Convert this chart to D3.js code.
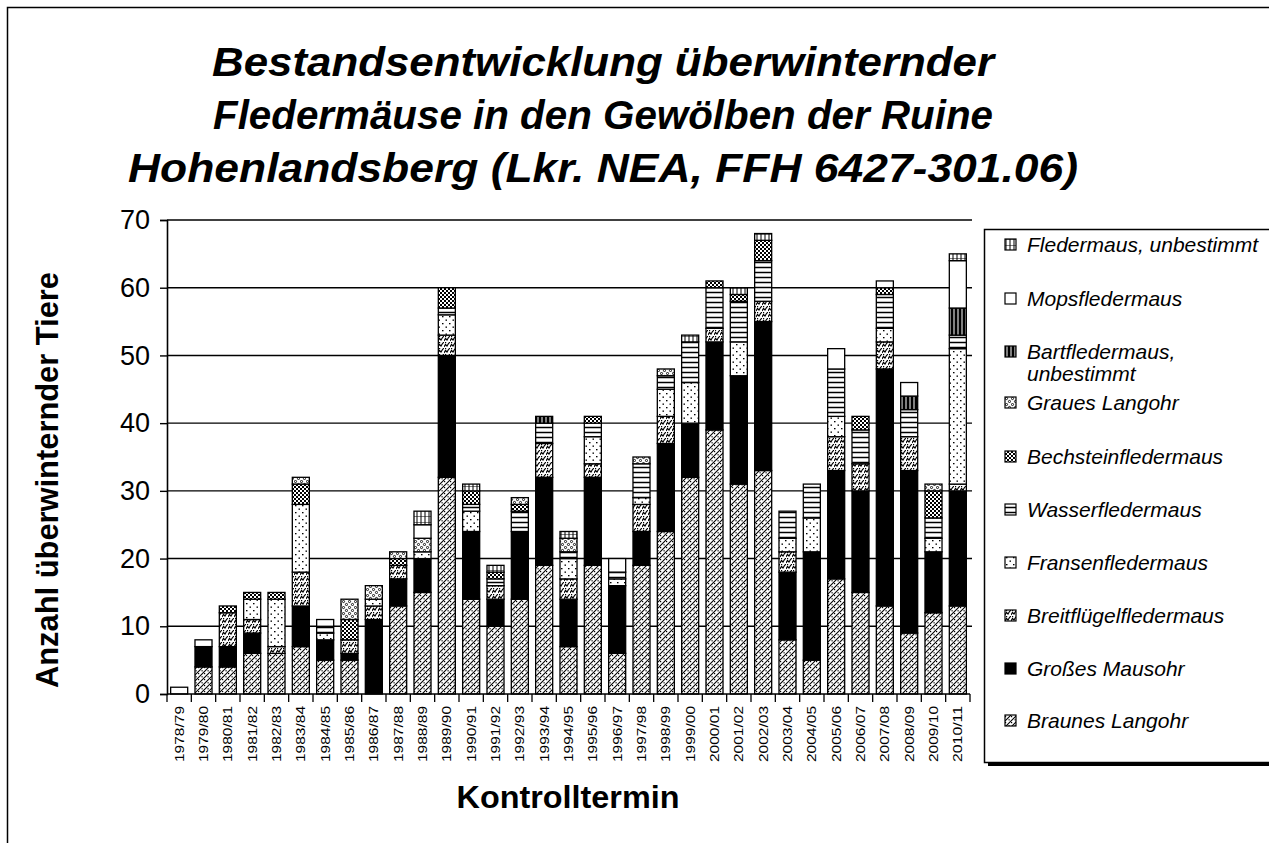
<!DOCTYPE html>
<html>
<head>
<meta charset="utf-8">
<script src="https://cdn.jsdelivr.net/npm/d3@7"></script>
<style>
    body { margin: 0; background: #fff; }
    text { font-family: "Liberation Sans", Arial, sans-serif; fill: #000; }
</style>
</head>
<body>
<div id="chart"></div>
<script>
"use strict";

// Kontrolltermine (x axis)
let seasons = ["1978/79", "1979/80", "1980/81", "1981/82", "1982/83", "1983/84", "1984/85", "1985/86",
    "1986/87", "1987/88", "1988/89", "1989/90", "1990/91", "1991/92", "1992/93", "1993/94", "1994/95",
    "1995/96", "1996/97", "1997/98", "1998/99", "1999/00", "2000/01", "2001/02", "2002/03", "2003/04",
    "2004/05", "2005/06", "2006/07", "2007/08", "2008/09", "2009/10", "2010/11"];

// counts per species, stacked bottom -> top
let braunesLangohr = [0, 4, 4, 6, 6, 7, 5, 5, 0, 13, 15, 32, 14, 10, 14, 19, 7, 19, 6, 19, 24, 32, 39, 31, 33, 8, 5, 17, 15, 13, 9, 12, 13];
let grossesMausohr = [0, 3, 3, 3, 0, 6, 3, 1, 11, 4, 5, 18, 10, 4, 10, 13, 7, 13, 10, 5, 13, 8, 13, 16, 22, 10, 16, 16, 15, 35, 24, 9, 17];
let breitfluegel = [0, 0, 5, 2, 1, 5, 0, 2, 2, 2, 0, 3, 0, 2, 0, 5, 3, 2, 0, 4, 4, 0, 2, 0, 3, 3, 0, 5, 4, 4, 5, 0, 1];
let fransen = [0, 0, 0, 3, 7, 10, 1, 0, 1, 0, 1, 3, 3, 0, 0, 0, 3, 4, 1, 1, 4, 6, 0, 5, 0, 2, 5, 3, 0, 2, 0, 2, 20];
let wasser = [0, 0, 0, 0, 0, 0, 1, 0, 0, 0, 0, 1, 1, 1, 3, 3, 1, 2, 1, 5, 2, 6, 6, 6, 6, 4, 5, 7, 5, 5, 4, 3, 2];
let bechstein = [0, 0, 1, 1, 1, 3, 0, 3, 0, 1, 0, 3, 2, 1, 1, 0, 0, 1, 0, 0, 0, 0, 1, 1, 3, 0, 0, 0, 2, 1, 0, 4, 0];
let grauesLangohr = [0, 0, 0, 0, 0, 1, 0, 3, 2, 1, 2, 0, 0, 0, 1, 0, 2, 0, 0, 1, 1, 0, 0, 0, 0, 0, 0, 0, 0, 0, 0, 1, 0];
let bart = [0, 0, 0, 0, 0, 0, 0, 0, 0, 0, 0, 0, 0, 0, 0, 1, 0, 0, 0, 0, 0, 0, 0, 0, 0, 0, 0, 0, 0, 0, 2, 0, 4];
let mops = [1, 1, 0, 0, 0, 0, 1, 0, 0, 0, 2, 0, 0, 0, 0, 0, 0, 0, 2, 0, 0, 0, 0, 0, 0, 0, 0, 3, 0, 1, 2, 0, 7];
let unbestimmt = [0, 0, 0, 0, 0, 0, 0, 0, 0, 0, 2, 0, 1, 1, 0, 0, 1, 0, 0, 0, 0, 1, 0, 1, 1, 0, 0, 0, 0, 0, 0, 0, 1];

let yTicks = [0, 10, 20, 30, 40, 50, 60, 70];

let series = [
    { key: "braunes", name: "Braunes Langohr", values: braunesLangohr },
    { key: "mausohr", name: "Großes Mausohr", values: grossesMausohr },
    { key: "breit", name: "Breitflügelfledermaus", values: breitfluegel },
    { key: "fransen", name: "Fransenfledermaus", values: fransen },
    { key: "wasser", name: "Wasserfledermaus", values: wasser },
    { key: "bech", name: "Bechsteinfledermaus", values: bechstein },
    { key: "graues", name: "Graues Langohr", values: grauesLangohr },
    { key: "bart", name: "Bartfledermaus, unbestimmt", values: bart },
    { key: "mops", name: "Mopsfledermaus", values: mops },
    { key: "unbest", name: "Fledermaus, unbestimmt", values: unbestimmt }
];

let rows = seasons.map(function (s, i) {
    let r = { season: s };
    for (let sr of series) r[sr.key] = sr.values[i];
    return r;
});

let width = 1269, height = 843;
let plot = { left: 167, right: 970, top: 220, bottom: 694 };

let svg = d3.select("#chart")
    .append("svg")
    .attr("width", width)
    .attr("height", height);

svg.append("rect").attr("width", width).attr("height", height).attr("fill", "#fff");

// Fill patterns, black & white like the original print
let defs = svg.append("defs");
let pat = function (id, w, h) {
    let p = defs.append("pattern").attr("id", id)
        .attr("patternUnits", "userSpaceOnUse")
        .attr("width", w).attr("height", h);
    p.append("rect").attr("width", w).attr("height", h).attr("fill", "#fff");
    return p;
};
let p1 = pat("p-braunes", 6, 6);
p1.append("path").attr("d", "M0,6L6,0M-1,1L1,-1M5,7L7,5").attr("stroke", "#000").attr("stroke-width", 1.1);
p1.append("rect").attr("x", 0).attr("y", 1).attr("width", 1.2).attr("height", 1.2).attr("fill", "#000");
p1.append("rect").attr("x", 3.5).attr("y", 4.2).attr("width", 1.2).attr("height", 1.2).attr("fill", "#000");

let p2 = pat("p-breit", 6, 6);
p2.append("path").attr("d", "M0,5L1.5,2.5L3,4L4.5,1.5L6,0").attr("stroke", "#000").attr("stroke-width", 1.2).attr("fill", "none");
p2.append("rect").attr("x", 1).attr("y", 0).attr("width", 1.2).attr("height", 1.2).attr("fill", "#000");

let p3 = pat("p-fransen", 7, 7);
p3.append("rect").attr("x", 1).attr("y", 1).attr("width", 1.5).attr("height", 1.3).attr("fill", "#000");
p3.append("rect").attr("x", 4.5).attr("y", 4.5).attr("width", 1.5).attr("height", 1.3).attr("fill", "#000");

let p4 = pat("p-wasser", 6, 5);
p4.append("path").attr("d", "M0,2.5H6").attr("stroke", "#000").attr("stroke-width", 1.5);

let p5 = pat("p-bech", 4, 4);
p5.append("rect").attr("width", 2).attr("height", 2).attr("fill", "#000");
p5.append("rect").attr("x", 2).attr("y", 2).attr("width", 2).attr("height", 2).attr("fill", "#000");

let p6 = pat("p-graues", 6, 6);
p6.append("circle").attr("cx", 1.5).attr("cy", 1.5).attr("r", 1.1).attr("fill", "none").attr("stroke", "#000").attr("stroke-width", 0.9);
p6.append("circle").attr("cx", 4.5).attr("cy", 4.5).attr("r", 1.1).attr("fill", "none").attr("stroke", "#000").attr("stroke-width", 0.9);

let p7 = pat("p-bart", 4, 4);
p7.select("rect").attr("fill", "#000");
p7.append("path").attr("d", "M2,0V4").attr("stroke", "#fff").attr("stroke-width", 1);

let p8 = pat("p-unbest", 4, 6);
p8.append("path").attr("d", "M1,0V6M0,0H4").attr("stroke", "#000").attr("stroke-width", 1);

let fillFor = {
    braunes: "url(#p-braunes)",
    mausohr: "#000",
    breit: "url(#p-breit)",
    fransen: "url(#p-fransen)",
    wasser: "url(#p-wasser)",
    bech: "url(#p-bech)",
    graues: "url(#p-graues)",
    bart: "url(#p-bart)",
    mops: "#fff",
    unbest: "url(#p-unbest)"
};

// outer frame
svg.append("rect")
    .attr("x", 7.5).attr("y", 7.5)
    .attr("width", 1300).attr("height", 900)
    .attr("fill", "none").attr("stroke", "#000").attr("stroke-width", 1.5);

// Title
let title = ["Bestandsentwicklung überwinternder",
    "Fledermäuse in den Gewölben der Ruine",
    "Hohenlandsberg (Lkr. NEA, FFH 6427-301.06)"];
let titleWidth = [782, 780, 950];
svg.append("g").selectAll("text")
    .data(title)
    .enter().append("text")
    .attr("x", 603)
    .attr("y", function (d, i) { return 76 + i * 53; })
    .attr("text-anchor", "middle")
    .attr("textLength", function (d, i) { return titleWidth[i]; })
    .attr("lengthAdjust", "spacingAndGlyphs")
    .style("font-size", "41px")
    .style("font-weight", "bold")
    .style("font-style", "italic")
    .text(function (d) { return d; });

// Scales
let x = d3.scaleBand()
    .domain(seasons)
    .range([plot.left, plot.right])
    .paddingInner(0.3)
    .paddingOuter(0.15);
let y = d3.scaleLinear()
    .domain([0, 70])
    .range([plot.bottom, plot.top]);

// gridlines
svg.append("g")
    .selectAll("line")
    .data(yTicks.slice(1))
    .enter().append("line")
    .attr("x1", plot.left).attr("x2", plot.right + 2)
    .attr("y1", function (d) { return y(d); })
    .attr("y2", function (d) { return y(d); })
    .attr("stroke", "#000").attr("stroke-width", 1.4);

// Stacked bars
let stack = d3.stack().keys(series.map(function (s) { return s.key; }));
let layers = svg.append("g").attr("class", "bars")
    .selectAll("g")
    .data(stack(rows))
    .enter().append("g")
    .attr("fill", function (d) { return fillFor[d.key]; });

layers.selectAll("rect")
    .data(function (d) { return d.filter(function (s) { return s[1] > s[0]; }); })
    .enter().append("rect")
    .attr("x", function (d) { return x(d.data.season); })
    .attr("width", x.bandwidth())
    .attr("y", function (d) { return y(d[1]); })
    .attr("height", function (d) { return y(d[0]) - y(d[1]); })
    .attr("stroke", "#000")
    .attr("stroke-width", 1.3);

// Y axis
let yAxis = d3.axisLeft(y).tickValues(yTicks).tickSize(7).tickPadding(10);
let gy = svg.append("g")
    .attr("transform", "translate(" + plot.left + ",0)")
    .call(yAxis);
gy.select(".domain").attr("stroke-width", 1.6);
gy.selectAll("line").attr("stroke-width", 1.4);
gy.selectAll("text")
    .style("font-size", "27px")
    .style("font-family", "'Liberation Sans', Arial, sans-serif");

// X axis: ticks sit between the categories
let gx = svg.append("g").attr("transform", "translate(0," + plot.bottom + ")");
gx.append("line")
    .attr("x1", plot.left).attr("x2", plot.right)
    .attr("stroke", "#000").attr("stroke-width", 1.6);
gx.selectAll(".tick")
    .data(seasons)
    .enter().append("line")
    .attr("class", "tick")
    .attr("x1", function (d) { return x(d) - x.step() * x.paddingInner() / 2; })
    .attr("x2", function (d) { return x(d) - x.step() * x.paddingInner() / 2; })
    .attr("y1", 0).attr("y2", 8)
    .attr("stroke", "#000").attr("stroke-width", 1.3);
gx.append("line")
    .attr("x1", plot.right).attr("x2", plot.right)
    .attr("y1", 0).attr("y2", 8)
    .attr("stroke", "#000").attr("stroke-width", 1.3);
gx.selectAll(".lbl")
    .data(seasons)
    .enter().append("text")
    .attr("class", "lbl")
    .attr("transform", function (d) {
        return "translate(" + (x(d) + x.bandwidth() / 2 + 4.5) + ",12) rotate(-90)";
    })
    .attr("text-anchor", "end")
    .attr("textLength", 56)
    .attr("lengthAdjust", "spacingAndGlyphs")
    .style("font-size", "13px")
    .text(function (d) { return d; });

// Axis titles
svg.append("text")
    .attr("transform", "translate(58,480) rotate(-90)")
    .attr("text-anchor", "middle")
    .attr("textLength", 416)
    .attr("lengthAdjust", "spacingAndGlyphs")
    .style("font-size", "31px")
    .style("font-weight", "bold")
    .text("Anzahl überwinternder Tiere");

svg.append("text")
    .attr("x", 568).attr("y", 808)
    .attr("text-anchor", "middle")
    .attr("textLength", 223)
    .attr("lengthAdjust", "spacingAndGlyphs")
    .style("font-size", "31px")
    .style("font-weight", "bold")
    .text("Kontrolltermin");

// Legend (top entry = top of stack)
let legend = svg.append("g").attr("class", "legend");
legend.append("rect")
    .attr("x", 988).attr("y", 762)
    .attr("width", 320).attr("height", 4)
    .attr("fill", "#000");
legend.append("rect")
    .attr("x", 984.5).attr("y", 229.5)
    .attr("width", 320).attr("height", 533)
    .attr("fill", "#fff").attr("stroke", "#000").attr("stroke-width", 1.5);

let legendY = [245, 299, 352, 403, 457, 510, 563, 616, 669, 721];
let items = series.slice().reverse();
let entry = legend.selectAll(".item")
    .data(items)
    .enter().append("g")
    .attr("class", "item")
    .attr("transform", function (d, i) { return "translate(1005," + legendY[i] + ")"; });
entry.append("rect")
    .attr("x", 0).attr("y", -6)
    .attr("width", 11).attr("height", 11)
    .attr("fill", function (d) { return fillFor[d.key]; })
    .attr("stroke", "#000").attr("stroke-width", 1.2);
entry.append("text")
    .attr("x", 22)
    .attr("dy", "0.35em")
    .style("font-size", "21px")
    .style("font-style", "italic")
    .each(function (d) {
        let parts = d.name.split(", ");
        let t = d3.select(this);
        if (d.key === "bart") {
            t.append("tspan").text(parts[0] + ",");
            t.append("tspan").attr("x", 22).attr("dy", "1.05em").text(parts[1]);
        } else {
            t.text(d.name);
        }
    });
</script>
</body>
</html>
